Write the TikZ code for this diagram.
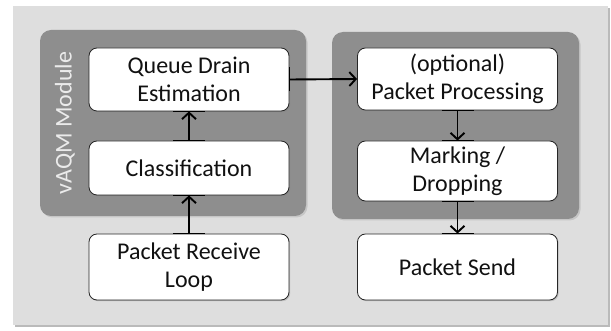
\documentclass[tikz,border=0pt]{standalone}
\usepackage{fontspec}
\setmainfont{Carlito}
\usetikzlibrary{arrows.meta,shadows}
\definecolor{bggray}{HTML}{DEDEDE}
\definecolor{modgray}{HTML}{8E8E8E}
\definecolor{txt}{HTML}{111111}
\begin{document}
\begin{tikzpicture}[x=1pt,y=-1pt,
  module/.style={draw=none,fill=modgray,rounded corners=11pt,inner sep=0pt,
    drop shadow={shadow xshift=1.5pt,shadow yshift=-1.5pt,opacity=0.25}},
  stepbox/.style={draw=black!85,line width=0.8pt,fill=white,rounded corners=8pt,
    minimum width=200pt,inner sep=0pt,align=center,text=txt,
    font=\fontsize{24}{28}\selectfont,
    drop shadow={shadow xshift=1.2pt,shadow yshift=-1.2pt,opacity=0.35}},
  flow/.style={line width=1.9pt,-{Straight Barb[length=6.5pt,width=14pt,line width=1.9pt]}},
  tab/.style={line width=1.5pt,black}
]
\useasboundingbox (0,0) rectangle (611,331);
% outer background
\node[draw=none,fill=bggray,minimum width=595pt,minimum height=319pt,inner sep=0pt,
  drop shadow={shadow xshift=2pt,shadow yshift=-2pt,opacity=0.45,fill=black!60}]
  (bg) at (310.5,165.5) {};
% modules
\node[module,minimum width=266pt,minimum height=186pt] (modL) at (173,123) {};
\node[module,minimum width=247pt,minimum height=187pt] (modR) at (455.5,125.5) {};
\node[rotate=90,text=white!92!black,font=\fontsize{24}{28}\selectfont] (lbl) at (65,123) {vAQM Module};
% boxes
\node[stepbox,minimum height=63pt] (qde) at (189,79.5) {Queue Drain\\Estimation};
\node[stepbox,minimum height=54pt] (cls) at (189,168) {Classification};
\node[stepbox,minimum height=66pt] (prl) at (189,267) {Packet Receive\\Loop};
\node[stepbox,minimum height=62pt] (opp) at (457.5,79) {(optional)\\Packet Processing};
\node[stepbox,minimum height=60pt] (mdr) at (457.5,171) {Marking /\\Dropping};
\node[stepbox,minimum height=66pt] (ps) at (457.5,267) {Packet Send};
% attachment tabs
\draw[tab] ([xshift=-16pt]qde.south) -- ([xshift=16pt]qde.south);
\draw[tab] ([xshift=-16pt]cls.north) -- ([xshift=16pt]cls.north);
\draw[tab] ([xshift=-16pt]cls.south) -- ([xshift=16pt]cls.south);
\draw[tab] ([xshift=-16pt]prl.north) -- ([xshift=16pt]prl.north);
\draw[tab] ([xshift=-16pt]opp.south) -- ([xshift=16pt]opp.south);
\draw[tab] ([xshift=-16pt]mdr.north) -- ([xshift=16pt]mdr.north);
\draw[tab] ([xshift=-16pt]mdr.south) -- ([xshift=16pt]mdr.south);
\draw[tab] ([xshift=-16pt]ps.north) -- ([xshift=16pt]ps.north);
\draw[tab] ([yshift=-12pt]qde.east) -- ([yshift=12pt]qde.east);
% connectors
\draw[flow] (cls.north) -- (qde.south);
\draw[flow] (prl.north) -- (cls.south);
\draw[flow] (qde.east) -- (opp.west);
\draw[flow] (opp.south) -- (mdr.north);
\draw[flow] (mdr.south) -- (ps.north);
\end{tikzpicture}
\end{document}
